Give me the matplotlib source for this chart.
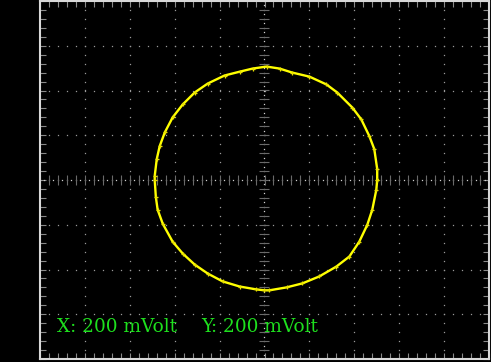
import numpy as np
import matplotlib.pyplot as plt

# XY trace, in mV (200 mV per division)
x_mv = [502, 502, 489, 467, 431, 391, 324, 276, 200, 124, 67, 9, -53, -111,
        -178, -253, -311, -364, -409, -444, -467, -480, -489, -489, -484, -476,
        -453, -409, -364, -311, -253, -187, -111, -36, 0, 22, 98, 169, 244,
        320, 378, 422, 458, 480, 498, 502]
y_mv = [0, 49, 138, 196, 271, 324, 391, 427, 462, 480, 498, 507, 498, 484,
        467, 431, 391, 338, 280, 213, 151, 93, 18, 0, -76, -133, -196, -276,
        -329, -378, -418, -453, -476, -489, -493, -493, -480, -462, -431, -387,
        -342, -276, -200, -133, -44, 0]
mv_per_div = 200
x_label = "X: 200 mVolt"
y_label = "Y: 200 mVolt"

xd = np.array(x_mv) / mv_per_div
yd = np.array(y_mv) / mv_per_div

fig = plt.figure(figsize=(4.91, 3.62), dpi=100, facecolor="black")
ax = fig.add_axes([40 / 491, 3 / 362, 449 / 491, 358 / 362])
ax.set_facecolor("black")
ax.set_xlim(-5, 4.98)
ax.set_ylim(-3.956, 4.0)

# dotted graticule, one dot every 1/5 division
dots = np.arange(-5, 5.01, 0.2)
for g in range(-4, 5):
    if g == 0:
        continue
    ax.plot(np.full_like(dots, g), dots, ls="none", marker="s", ms=0.9,
            mec="none", mfc="#9a9a9a")
for g in range(-3, 4):
    if g == 0:
        continue
    ax.plot(dots, np.full_like(dots, g), ls="none", marker="s", ms=0.9,
            mec="none", mfc="#9a9a9a")

# centre axes with denser dots and small cross ticks
fine = np.arange(-5, 5.01, 0.1)
ax.plot(fine, np.zeros_like(fine), ls="none", marker="s", ms=0.9,
        mec="none", mfc="#d0d0d0")
ax.plot(np.zeros_like(fine), fine, ls="none", marker="s", ms=0.9,
        mec="none", mfc="#d0d0d0")
ax.plot(dots, np.zeros_like(dots), ls="none", marker="|", ms=7,
        mew=0.8, mec="#6a6a6a")
ax.plot(np.zeros_like(dots), dots, ls="none", marker="_", ms=7,
        mew=0.8, mec="#6a6a6a")

# the trace
ax.plot(xd, yd, color="#ffff00", lw=1.7, solid_joinstyle="miter")
ax.plot(xd, yd, ls="none", marker="+", ms=3.5, mew=0.9, color="#e8e000")

# channel scale readout
ax.text(-4.62, -3.4, x_label, color="#1ee01e", family="DejaVu Serif",
        fontsize=13.3, ha="left", va="baseline")
ax.text(-1.4, -3.4, y_label, color="#1ee01e", family="DejaVu Serif",
        fontsize=13.3, ha="left", va="baseline")

# inward ticks along the frame
ax.set_xticks(np.arange(-5, 5.01, 0.2))
ax.set_yticks(np.arange(-4, 4.01, 0.2))
ax.tick_params(direction="in", length=4, width=0.8, color="#8a8a8a",
               top=True, right=True, labelbottom=False, labelleft=False)
for s in ax.spines.values():
    s.set_color("#d8d8d8")
    s.set_linewidth(1.5)

fig.savefig("out.png", dpi=100, facecolor="black")
